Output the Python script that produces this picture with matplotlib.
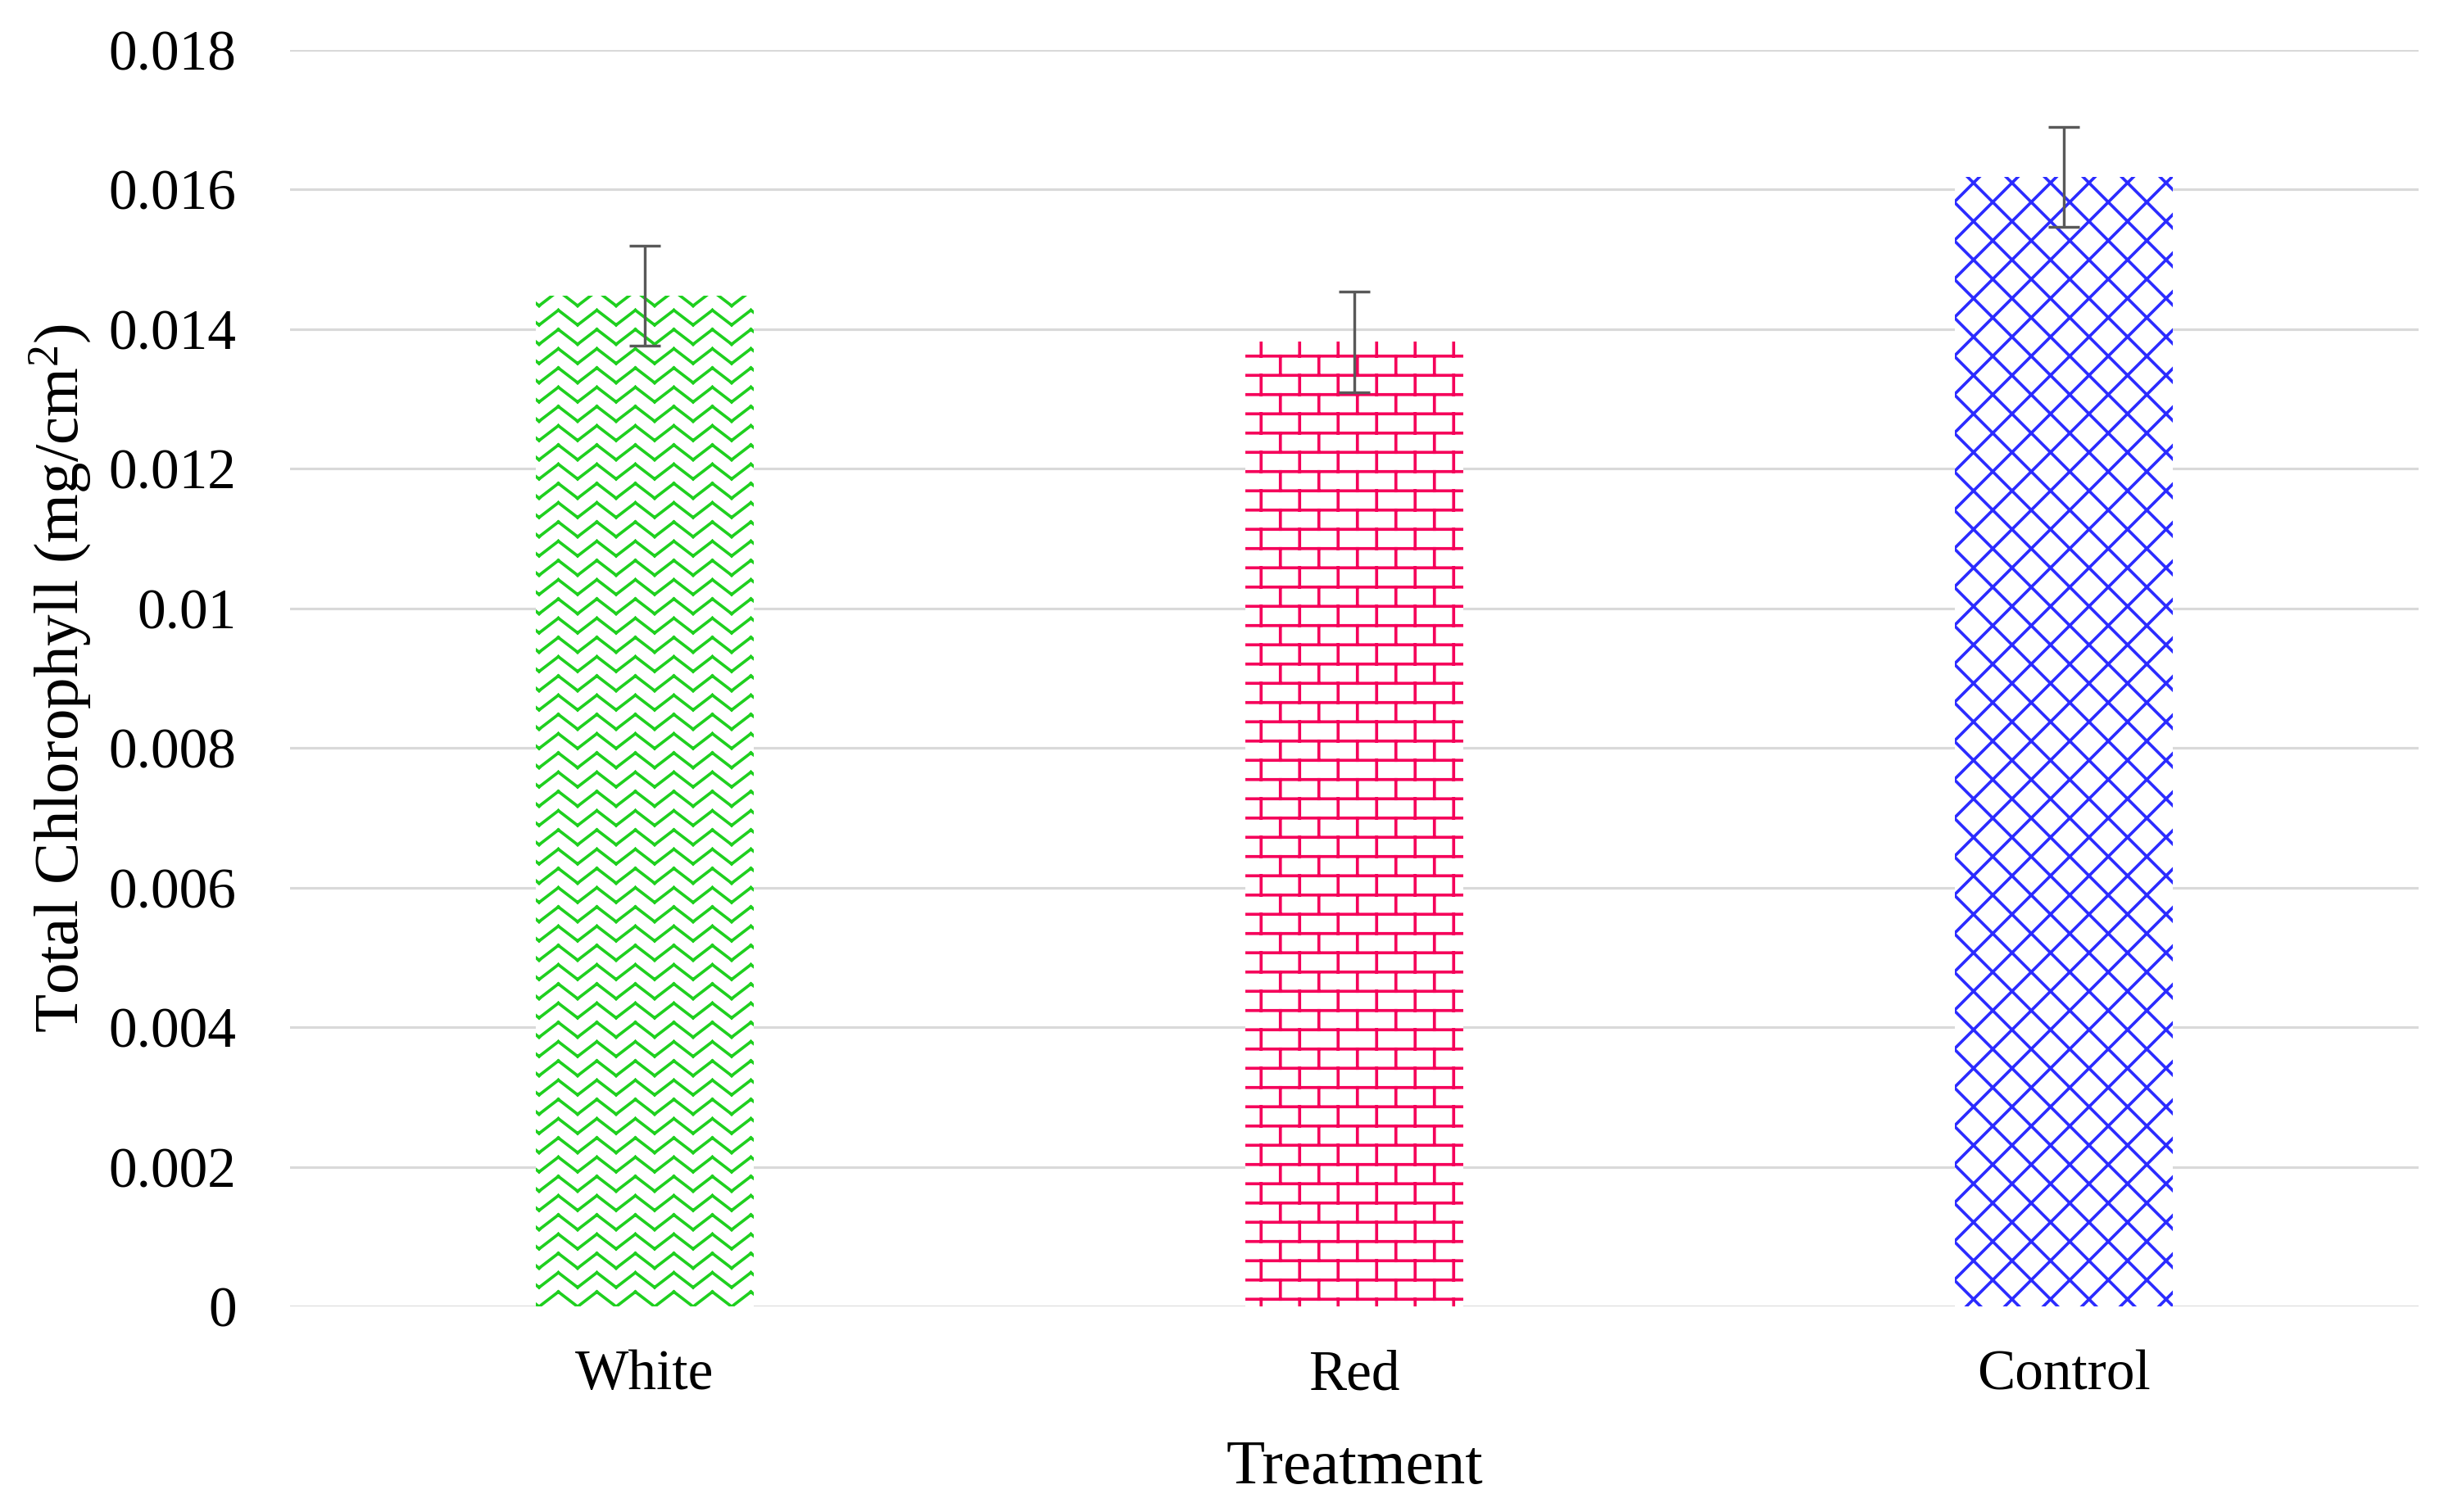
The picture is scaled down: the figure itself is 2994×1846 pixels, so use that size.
import numpy as np
import matplotlib
matplotlib.use("Agg")
import matplotlib.pyplot as plt
from matplotlib import hatch as mhatch
from matplotlib.path import Path

# data
treatments = ["White", "Red", "Control"]
chlorophyll = [0.01448, 0.01382, 0.01618]
errors = [0.00072, 0.00072, 0.00072]
y_ticks = [0, 0.002, 0.004, 0.006, 0.008, 0.010, 0.012, 0.014, 0.016, 0.018]
y_tick_labels = ["0", "0.002", "0.004", "0.006", "0.008", "0.01",
                 "0.012", "0.014", "0.016", "0.018"]

colors = ["#1fcf1f", "#f5005a", "#2b2bff"]
patterns = ["z", "b", "d"]  # zigzag, brick, diamond (custom hatches below)


# --- custom hatch shapes (tile = 1 inch), drawn as separate 2-point segments
# because agg fills hatch paths as well as stroking them ---
class ZigZagHatch(mhatch.HatchPatternBase):
    def __init__(self, hatch, density):
        self.rows = 8 if "z" in hatch else 0
        self.segs = 10  # x = -1/8 .. 9/8
        self.num_vertices = self.rows * self.segs * 2

    def set_vertices_and_codes(self, vertices, codes):
        amp = 0.048
        ks = np.arange(-1, 10)
        xs = ks / 8.0
        wave = np.where(ks % 2 == 1, amp, -amp)
        idx = 0
        for i in range(self.rows):
            y0 = (i + 0.5) / self.rows
            for k in range(self.segs):
                vertices[idx] = (xs[k], y0 + wave[k])
                vertices[idx + 1] = (xs[k + 1], y0 + wave[k + 1])
                idx += 2
        codes[0::2] = Path.MOVETO
        codes[1::2] = Path.LINETO


class BrickHatch(mhatch.HatchPatternBase):
    def __init__(self, hatch, density):
        self.on = "b" in hatch
        self.rows, self.cols = 8, 4
        self.num_vertices = (self.rows * 2 + (self.rows + 1) * self.cols * 2) if self.on else 0

    def set_vertices_and_codes(self, vertices, codes):
        h = 1.0 / self.rows
        idx = 0
        for k in range(self.rows):
            y = (k + 0.5) * h
            vertices[idx] = (-0.1, y)
            vertices[idx + 1] = (1.1, y)
            idx += 2
        for k in range(-1, self.rows):
            y_lo = (k + 0.5) * h
            y_hi = (k + 1.5) * h
            for j in range(self.cols):
                x = j / self.cols + (k % 2) / (2 * self.cols) + 1 / (4 * self.cols)
                vertices[idx] = (x, y_lo)
                vertices[idx + 1] = (x, y_hi)
                idx += 2
        codes[0::2] = Path.MOVETO
        codes[1::2] = Path.LINETO


class DiamondHatch(mhatch.HatchPatternBase):
    def __init__(self, hatch, density):
        self.on = "d" in hatch
        self.ne = np.arange(-1.25, 1.2501, 0.25)
        self.se = np.arange(-0.25, 2.2501, 0.25) + 0.125
        self.num_vertices = (len(self.ne) + len(self.se)) * 2 if self.on else 0

    def set_vertices_and_codes(self, vertices, codes):
        idx = 0
        for c in self.ne:
            vertices[idx] = (c - 0.1, -0.1)
            vertices[idx + 1] = (c + 1.1, 1.1)
            idx += 2
        for c in self.se:
            vertices[idx] = (c + 0.1, -0.1)
            vertices[idx + 1] = (c - 1.1, 1.1)
            idx += 2
        codes[0::2] = Path.MOVETO
        codes[1::2] = Path.LINETO


mhatch._hatch_types.extend([ZigZagHatch, BrickHatch, DiamondHatch])
mhatch._validate_hatch_pattern = lambda hatch: None

plt.rcParams["font.family"] = ["Liberation Serif", "DejaVu Serif"]
plt.rcParams["mathtext.fontset"] = "custom"
plt.rcParams["mathtext.rm"] = "Liberation Serif"
plt.rcParams["mathtext.it"] = "Liberation Serif:italic"
plt.rcParams["mathtext.bf"] = "Liberation Serif:bold"
plt.rcParams["hatch.linewidth"] = 1.4

DPI = 188
fig = plt.figure(figsize=(2994 / DPI, 1846 / DPI), dpi=DPI)
ax = fig.add_axes([0.1182, 0.1357, 0.8678, 0.8313])

x = np.arange(len(treatments))
for i in range(len(treatments)):
    ax.bar(x[i], chlorophyll[i], width=0.308, facecolor="white",
           edgecolor=colors[i], linewidth=0, hatch=patterns[i], zorder=2)

ax.errorbar(x, chlorophyll, yerr=errors, fmt="none", ecolor="#595959",
            elinewidth=1.3, capsize=7.3, capthick=1.3, zorder=3)

ax.set_xlim(-0.5, 2.5)
ax.set_ylim(0, 0.018)
ax.set_yticks(y_ticks)
ax.set_yticklabels(y_tick_labels)
ax.set_xticks(x)
ax.set_xticklabels(treatments)

ax.yaxis.grid(True, color="#d9d9d9", linewidth=1.2)
ax.set_axisbelow(True)
for s in ax.spines.values():
    s.set_visible(False)

ax.tick_params(axis="y", length=0, pad=25, labelsize=26.5)
ax.tick_params(axis="x", length=0, pad=20, labelsize=26.5)

ax.set_xlabel("Treatment", fontsize=29.5, labelpad=18)
ax.set_ylabel("Total Chlorophyll (mg/cm$^{2}$)", fontsize=29.5, labelpad=7)

fig.savefig("out.png", dpi=DPI, facecolor="white")
